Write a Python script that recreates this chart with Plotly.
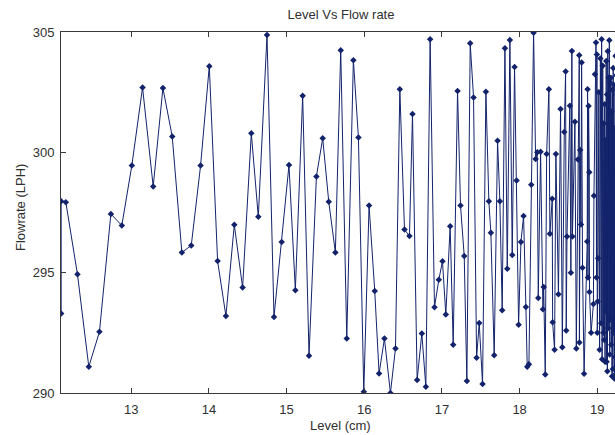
import plotly.graph_objects as go

# Level (cm) readings
level = [
    12.098, 12.098, 12.158, 12.308, 12.454, 12.591, 12.738, 12.879, 13.008, 13.146,
    13.283, 13.408, 13.528, 13.652, 13.773, 13.893, 14.005, 14.112, 14.219, 14.327,
    14.434, 14.546, 14.636, 14.748, 14.838, 14.937, 15.031, 15.113, 15.207, 15.289,
    15.384, 15.465, 15.543, 15.628, 15.697, 15.775, 15.860, 15.925, 15.994, 16.062,
    16.135, 16.191, 16.260, 16.337, 16.402, 16.458, 16.518, 16.582, 16.621, 16.681,
    16.741, 16.793, 16.848, 16.904, 16.960, 17.007, 17.050, 17.106, 17.145, 17.201,
    17.239, 17.287, 17.321, 17.364, 17.407, 17.446, 17.480, 17.523, 17.566, 17.604,
    17.630, 17.673, 17.716, 17.746, 17.776, 17.811, 17.841, 17.875, 17.905, 17.935,
    17.961, 17.987, 18.017, 18.051, 18.081, 18.098, 18.120, 18.150, 18.180, 18.206,
    18.227, 18.240, 18.270, 18.300, 18.310, 18.330, 18.348, 18.377, 18.390, 18.420,
    18.425, 18.450, 18.467, 18.500, 18.527, 18.550, 18.575, 18.592, 18.600, 18.610,
    18.647, 18.660, 18.673, 18.680, 18.712, 18.730, 18.750, 18.768, 18.770, 18.780,
    18.790, 18.798, 18.810, 18.830, 18.870, 18.875, 18.880, 18.888, 18.897, 18.900,
    18.920, 18.950, 18.957, 18.970, 18.983, 18.990, 18.995, 19.000, 19.005, 19.010,
    19.020, 19.030, 19.040, 19.050, 19.056, 19.062, 19.070, 19.078, 19.084, 19.090,
    19.095, 19.100, 19.105, 19.110, 19.115, 19.120, 19.125, 19.130, 19.135, 19.140,
    19.145, 19.150, 19.155, 19.160, 19.165, 19.170, 19.175, 19.180, 19.185, 19.190,
    19.195, 19.200, 19.205, 19.210, 19.215, 19.220, 19.225, 19.230, 19.235, 19.240,
    19.245, 19.250, 19.255, 19.260, 19.265, 19.270, 19.275, 19.280, 19.285, 19.290,
]

# Flowrate (LPH) readings
flow = [
    293.30, 297.97, 297.93, 294.93, 291.09, 292.54, 297.44, 296.96, 299.45, 302.69,
    298.58, 302.67, 300.66, 295.84, 296.13, 299.45, 303.58, 295.48, 293.20, 296.99,
    294.38, 300.79, 297.32, 304.88, 293.16, 296.27, 299.47, 294.27, 302.35, 291.55,
    299.00, 300.58, 297.95, 295.84, 304.24, 292.26, 303.83, 300.62, 290.05, 297.79,
    294.24, 290.81, 292.26, 290.00, 291.85, 302.62, 296.79, 296.52, 301.59, 290.54,
    292.47, 290.26, 304.70, 293.56, 294.71, 295.47, 293.26, 296.93, 292.01, 302.55,
    297.79, 295.69, 290.50, 304.53, 302.28, 291.46, 292.91, 290.37, 302.52, 297.97,
    296.66, 291.57, 300.48, 297.97, 293.44, 304.32, 295.16, 304.67, 295.73, 303.55,
    298.83, 292.84, 296.27, 297.35, 293.57, 291.09, 291.19, 298.65, 304.97, 299.72,
    300.00, 293.95, 300.02, 293.48, 294.40, 290.77, 299.93, 302.62, 296.62, 298.07,
    292.94, 291.80, 299.93, 294.10, 301.80, 291.90, 300.85, 303.36, 292.60, 296.50,
    301.94, 295.00, 304.21, 296.50, 301.27, 291.85, 299.70, 304.03, 292.10, 300.10,
    297.00, 303.73, 295.20, 290.80, 296.30, 302.62, 294.80, 301.93, 299.17, 294.20,
    292.50, 293.70, 298.20, 303.24, 304.56, 294.80, 304.07, 292.50, 293.80, 295.60,
    302.50, 291.80, 303.90, 292.90, 304.70, 291.40, 303.60, 292.50, 301.20, 292.20,
    302.00, 291.30, 300.50, 293.40, 303.80, 291.30, 302.40, 290.90, 304.20, 292.70,
    303.10, 293.00, 304.66, 291.60, 302.90, 293.10, 303.10, 292.00, 301.70, 290.70,
    302.60, 291.00, 303.50, 292.50, 302.80, 290.60, 301.00, 291.50, 304.00, 290.80,
    303.20, 291.80, 302.40, 292.30, 304.40, 291.20, 302.10, 290.90, 303.30, 292.10,
]

xticks = [13, 14, 15, 16, 17, 18, 19]
yticks = [290, 295, 300, 305]

navy = "#13236b"
axis_col = "#3a3a3a"
font_fam = "Liberation Sans, Arial, sans-serif"

fig = go.Figure()
fig.add_trace(go.Scatter(
    x=level, y=flow, mode="lines+markers",
    line=dict(color=navy, width=1),
    marker=dict(symbol="diamond", size=5, color=navy),
    showlegend=False, hoverinfo="skip",
))

fig.update_layout(
    width=615, height=435,
    margin=dict(l=61, r=0, t=32, b=42),
    paper_bgcolor="white", plot_bgcolor="white",
    font=dict(family=font_fam, size=13, color="#303030"),
    title=dict(text="Level Vs Flow rate", x=(341 - 61) / 554, xref="paper",
               xanchor="center", y=1 - 14 / 435, yanchor="middle",
               font=dict(family=font_fam, size=13, color="#303030")),
    xaxis=dict(range=[12.096, 19.228], tickvals=xticks, ticks="inside", ticklen=5,
               tickcolor=axis_col, showline=True, linecolor=axis_col, linewidth=1,
               mirror="ticks", showgrid=False, zeroline=False,
               tickfont=dict(size=13), ticklabelstandoff=4),
    yaxis=dict(range=[290, 305], tickvals=yticks, ticks="inside", ticklen=5,
               tickcolor=axis_col, showline=True, linecolor=axis_col, linewidth=1,
               mirror=False, showgrid=False, zeroline=False,
               tickfont=dict(size=13), ticklabelstandoff=3),
    annotations=[
        dict(text="Level (cm)", xref="paper", yref="paper", x=(340 - 61) / 554,
             y=-(425 - 393) / 361, xanchor="center", yanchor="middle", showarrow=False,
             font=dict(size=13)),
        dict(text="Flowrate (LPH)", xref="paper", yref="paper", x=-(61 - 20) / 554,
             y=(393 - 208) / 361, xanchor="center", yanchor="middle", showarrow=False,
             textangle=-90, font=dict(size=13)),
    ],
)

fig.write_html("out.html", config={"displayModeBar": False},
               post_script="document.body.style.margin='0';document.body.style.overflow='hidden';")
